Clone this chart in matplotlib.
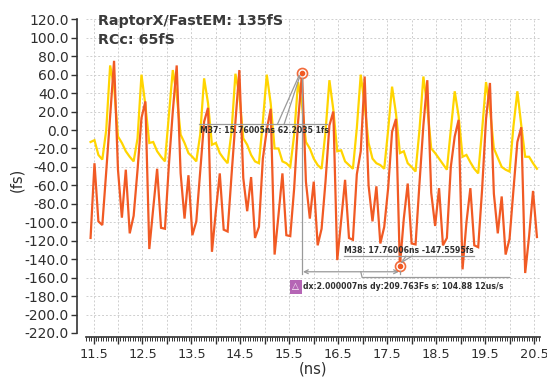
import matplotlib
matplotlib.use("Agg")
import matplotlib.pyplot as plt
import numpy as np
from matplotlib.ticker import MultipleLocator, FuncFormatter
from matplotlib.lines import Line2D
from matplotlib.transforms import IdentityTransform

# ---------------- data ----------------
t_start = 11.44   # ns
t_step = 0.08     # ns

rcc = [-117, -36, -99, -103, -45, 15, 75, -43,
       -95, -43, -112, -93, -43, 13, 31, -129,
       -85, -42, -106, -107, -38, 20, 70, -47,
       -96, -49, -114, -99, -45, 9, 24, -132,
       -88, -47, -108, -110, -49, 9, 65, -52,
       -88, -51, -117, -105, -31, 0, 23, -135,
       -92, -47, -114, -115, -63, 9, 62.2035, -56,
       -96, -56, -125, -107, -56, 5, 20, -141,
       -98, -54, -117, -119, -48, -23, 58, -60,
       -99, -61, -123, -105, -63, -2, 12, -147.5595,
       -96, -58, -123, -124, -58, 5, 54, -68,
       -104, -63, -125, -117, -40, -7, 11, -151,
       -100, -63, -125, -127, -64, 12, 51, -69,
       -112, -72, -135, -118, -65, -13, 3, -155,
       -115, -66, -116]

raptorx = [-13, -11, -27, -32, 0, 70, 47, -7,
           -14, -23, -29, -34, -9, 60, 27, -14,
           -13, -23, -29, -34, 16, 65, 38, -5,
           -14, -25, -29, -34, -5, 56, 29, -16,
           -14, -25, -31, -36, -2, 61, 38, -9,
           -16, -27, -34, -36, 9, 60, 29, -20,
           -20, -34, -36, -40, -5, 52, 27, -13,
           -20, -31, -38, -42, -2, 54, 22, -23,
           -22, -34, -38, -42, 2, 60, 27, -14,
           -31, -36, -38, -42, 0, 47, 18, -25,
           -23, -36, -40, -45, 0, 58, 25, -20,
           -25, -31, -37, -43, 0, 42, 15, -29,
           -27, -35, -42, -47, 0, 52, 23, -20,
           -30, -40, -43, -45, 4, 42, 5, -29,
           -29, -36, -42]

m37_t, m37_v = 15.76005, 62.2035
m38_t, m38_v = 17.76006, -147.5595

title_lines = ["RaptorX/FastEM: 135fS", "RCc: 65fS"]
m37_label = "M37: 15.76005ns 62.2035 1fs"
m38_label = "M38: 17.76006ns -147.5595fs"
delta_label = "dx:2.000007ns dy:209.763Fs s: 104.88 12us/s"
x_label = "(ns)"
y_label = "(fs)"

t = t_start + t_step * np.arange(len(rcc))

# ---------------- figure ----------------
plt.rcParams["font.family"] = ["DejaVu Sans"]
TXT = "#2e2e2e"
GRAY = "#9a9a9a"
RED = "#F15A24"
YEL = "#FFD500"

fig = plt.figure(figsize=(5.47, 3.77), dpi=100)
W, H = 547, 377
L, R, T, B = 85.5, 540.0, 19.3, 333.0
ax = fig.add_axes([L / W, 1 - B / H, (R - L) / W, (B - T) / H])

ax.plot(t, raptorx, color=YEL, lw=1.6, zorder=3, solid_joinstyle="miter")
ax.plot(t, rcc, color=RED, lw=1.6, zorder=4, solid_joinstyle="miter")

ax.set_xlim(11.3365, 20.6226)
ax.set_ylim(-220, 120)

ax.xaxis.set_major_locator(MultipleLocator(0.5))
ax.xaxis.set_minor_locator(MultipleLocator(0.05))
ax.yaxis.set_major_locator(MultipleLocator(20))


def xfmt(v, pos):
    k = (v - 11.5)
    if abs(k - round(k)) < 1e-6:
        return f"{v:.1f}"
    return ""


ax.xaxis.set_major_formatter(FuncFormatter(xfmt))
ax.yaxis.set_major_formatter(FuncFormatter(lambda v, p: f"{v:.1f}"))

ax.grid(True, which="major", color="#cfcfcf", ls=(0, (2, 2)), lw=0.7, zorder=0)

for s in ["top", "right"]:
    ax.spines[s].set_visible(False)
ax.spines["left"].set_position(("outward", 6))
ax.spines["bottom"].set_position(("outward", 3))
ax.spines["left"].set_bounds(-220, 120)
for s in ["left", "bottom"]:
    ax.spines[s].set_color("#333333")
    ax.spines[s].set_linewidth(1.2)

ax.tick_params(axis="y", which="major", length=4, width=1.0, colors="#333333",
               labelsize=10, labelcolor=TXT, pad=2)
ax.tick_params(axis="x", which="major", length=5, width=1.0, colors="#333333",
               labelsize=9.3, labelcolor=TXT, pad=3)
ax.tick_params(axis="x", which="minor", length=3, width=0.7, colors="#333333")

ax.set_xlabel(x_label, fontsize=10.5, color=TXT, labelpad=0)
ax.set_ylabel(y_label, fontsize=10.5, color=TXT)
ax.yaxis.set_label_coords(-0.135, 0.488)

fig.text(98 / W, 1 - 21 / H, title_lines[0], fontsize=10.3, fontweight="bold",
         color="#3a3a3a", va="center", ha="left")
fig.text(98 / W, 1 - 40 / H, title_lines[1], fontsize=10.3, fontweight="bold",
         color="#3a3a3a", va="center", ha="left")

# ---------------- markers & annotations ----------------
fig.canvas.draw()
P37 = ax.transData.transform((m37_t, m37_v))
P38 = ax.transData.transform((m38_t, m38_v))
ID = IdentityTransform()


def seg(x0, y0, x1, y1, color=GRAY, lw=0.9, z=6):
    fig.add_artist(Line2D([x0, x1], [y0, y1], transform=ID, color=color, lw=lw,
                          zorder=z))


for P in (P37, P38):
    ax.plot([P[0]], [P[1]], transform=ID, marker="o", ms=7.2, mfc="white",
            mec=RED, mew=1.2, zorder=7, alpha=0.9)
    ax.plot([P[0]], [P[1]], transform=ID, marker="o", ms=3.0, mfc=RED,
            mec=RED, zorder=8)

# vertical drop lines
arrow_y = P38[1] - 5.6
seg(P37[0], P37[1] - 5, P37[0], arrow_y - 2)
seg(P38[0], P38[1] - 5, P38[0], arrow_y - 2)
# horizontal dx arrow
ax.annotate("", xy=(P37[0] + 1, arrow_y), xytext=(P38[0] - 1, arrow_y),
            xycoords=ID, textcoords=ID,
            arrowprops=dict(arrowstyle="<->", color=GRAY, lw=0.9,
                            mutation_scale=7, shrinkA=0, shrinkB=0), zorder=6)

# M37 label
ly = P37[1] - 51.7
seg(P37[0] - 103, ly, P37[0] + 25, ly)
seg(P37[0] - 24.6, ly, P37[0] - 3, P37[1] - 3)
seg(P37[0] - 17.9, ly, P37[0] - 2, P37[1] - 3)
fig.text((P37[0] - 102) / W, (P37[1] - 58) / H, m37_label, fontsize=5.6,
         fontweight="bold", color=TXT, va="center", ha="left", zorder=9)

# M38 label
uy = P38[1] + 10
seg(P38[0] - 56, uy, P38[0] + 74, uy)
seg(P38[0] + 6, uy, P38[0] + 2, P38[1] + 4)
seg(P38[0] + 12, uy, P38[0] + 2, P38[1] + 4)
fig.text((P38[0] - 56) / W, (P38[1] + 15.4) / H, m38_label, fontsize=5.6,
         fontweight="bold", color=TXT, va="center", ha="left", zorder=9)

# delta label
dy_c = P38[1] - 20.6
seg(P37[0] + 60, arrow_y - 5.3, P37[0] + 207, arrow_y - 5.3)
seg(P37[0] + 58.8, arrow_y, P37[0] + 60, arrow_y - 5.3)
fig.text((P37[0] - 6.2) / W, dy_c / H, "\u25B3", fontsize=6.5, color="white",
         va="center", ha="center", zorder=10,
         bbox=dict(boxstyle="square,pad=0.25", fc="#B565B5", ec="none"))
fig.text((P37[0] + 1) / W, dy_c / H, delta_label, fontsize=5.6,
         fontweight="bold", color=TXT, va="center", ha="left", zorder=9)

fig.savefig("out.png", dpi=100)
